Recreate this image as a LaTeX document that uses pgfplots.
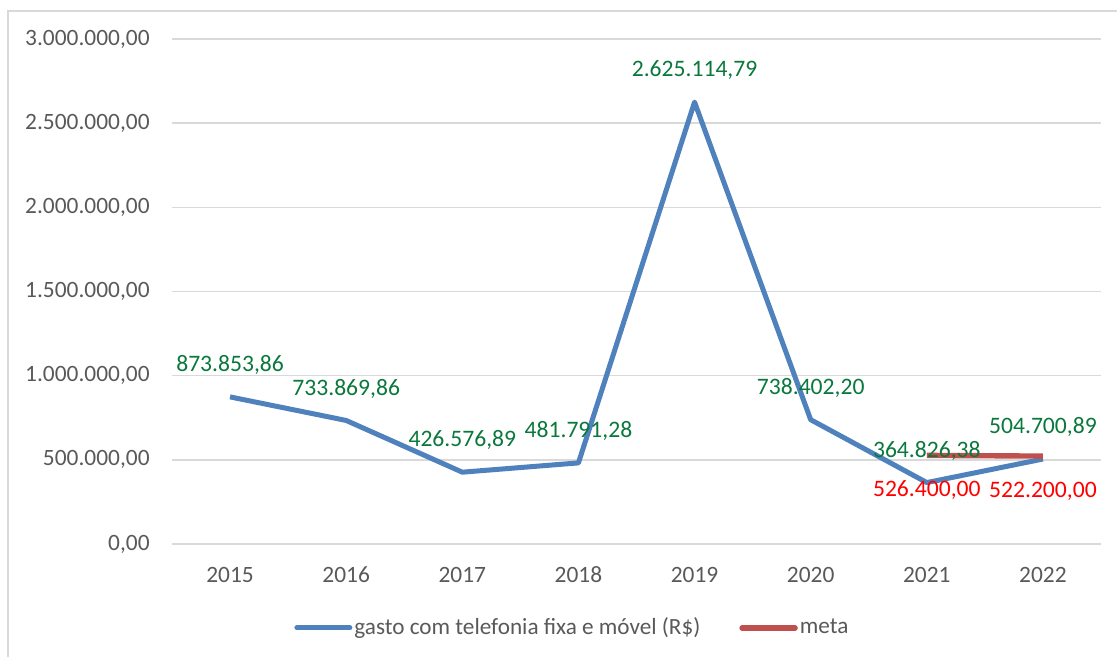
\documentclass[border=0pt]{standalone}
\usepackage{fontspec}
\setmainfont{Carlito}
\usepackage{pgfplots}
\usepackage{pgfplotstable}
\pgfplotsset{compat=1.18}
\definecolor{blueline}{HTML}{4F81BD}
\definecolor{redline}{HTML}{C0504D}
\definecolor{lblgreen}{RGB}{10,120,60}
\definecolor{tickgray}{HTML}{595959}
\definecolor{gridgray}{HTML}{D9D9D9}

\pgfplotstableread{
x y label
0 873853.86 873.853,86
1 733869.86 733.869,86
2 426576.89 426.576,89
3 481791.28 481.791,28
4 2625114.79 2.625.114,79
5 738402.20 738.402,20
6 364826.38 364.826,38
7 504700.89 504.700,89
}\gasto

\pgfplotstableread{
x y label
6 526400.00 526.400,00
7 522200.00 522.200,00
}\meta

\begin{document}
\begin{tikzpicture}
\path[use as bounding box] (0,0) rectangle (558.5pt,328.5pt);
\draw[gridgray, line width=1pt] (4pt,0) -- (4pt,323pt) -- (558.5pt,323pt);
\begin{axis}[
  at={(86pt,56.5pt)}, anchor=south west,
  scale only axis, width=464.5pt, height=252.5pt,
  xmin=-0.5, xmax=7.5, ymin=0, ymax=3000000,
  axis line style={draw=none},
  major tick length=0pt,
  ymajorgrids, grid style={gridgray, line width=0.8pt},
  xtick={0,1,2,3,4,5,6,7},
  xticklabels={2015,2016,2017,2018,2019,2020,2021,2022},
  ytick={0,500000,1000000,1500000,2000000,2500000,3000000},
  yticklabels={{0,00},{500.000,00},{1.000.000,00},{1.500.000,00},{2.000.000,00},{2.500.000,00},{3.000.000,00}},
  scaled y ticks=false,
  ticklabel style={font=\fontsize{11.7}{14}\selectfont, text=tickgray},
  yticklabel style={anchor=east, inner sep=0pt, xshift=-11pt},
  xticklabel style={anchor=center, inner sep=0pt, yshift=-15.5pt},
  clip=false,
  legend style={at={(0.1313,-0.166)}, anchor=west, draw=none, fill=none,
    legend columns=2, font=\fontsize{11.6}{14}\selectfont, text=tickgray,
    inner sep=0pt, cells={anchor=west},
    nodes={inner sep=1pt},
    /tikz/every even column/.append style={column sep=18.5pt}},
  legend image code/.code={\draw[#1, line cap=round] (0pt,0pt) -- (26.5pt,0pt);},
]
\addplot[blueline, line width=2.5pt, line join=round,
  nodes near coords, point meta=explicit symbolic,
  every node near coord/.append style={text=lblgreen, font=\fontsize{11.8}{14}\selectfont, anchor=center, yshift=16pt}]
  table[x=x, y=y, meta=label] {\gasto};
\addlegendentry{gasto com telefonia fixa e móvel (R\$)}
\addplot[redline, line width=2.7pt, line join=round,
  nodes near coords, point meta=explicit symbolic,
  every node near coord/.append style={text=red, font=\fontsize{11.8}{14}\selectfont, anchor=center, yshift=-17.5pt}]
  table[x=x, y=y, meta=label] {\meta};
\addlegendentry{meta}
\end{axis}
\end{tikzpicture}
\end{document}
